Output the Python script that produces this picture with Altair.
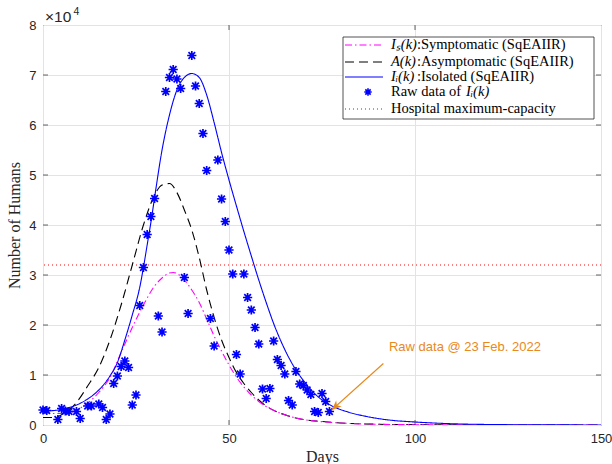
import altair as alt
import pandas as pd

# ---- SqEAIIR model curves (days, number of humans) ----
is_days = [0, 3, 6, 9, 12, 15, 18, 21, 24, 27, 30, 32, 34, 35, 36, 38, 40, 42, 44, 46, 48,
           50, 52, 54, 56, 58, 60, 63, 66, 70, 75, 80, 90, 100, 120, 150]
is_vals = [2600, 2300, 2300, 3000, 4400, 6500, 9500, 14500, 19500, 24000, 27800, 29400,
           30400, 30500, 30300, 29000, 27000, 24500, 21200, 17800, 14800, 12000, 9600,
           7600, 6000, 4700, 3700, 2600, 1800, 1100, 650, 400, 150, 60, 10, 0]

a_days = [0, 3, 6, 9, 12, 15, 18, 21, 24, 27, 30, 32, 34, 36, 38, 40, 42, 44, 46, 48, 50,
          52, 54, 56, 58, 60, 63, 66, 70, 75, 80, 90, 100, 120, 150]
a_vals = [1500, 1500, 2500, 4500, 7800, 11500, 17000, 24000, 32000, 40000, 46000, 48000,
          48300, 46500, 43000, 39000, 33500, 27000, 21500, 17000, 13500, 10500, 8300,
          6500, 5000, 3800, 2600, 1800, 1100, 700, 400, 150, 60, 10, 0]

ii_days = [0, 3, 6, 9, 12, 15, 18, 20, 22, 24, 26, 27, 28, 29, 30, 32, 34, 36, 38, 40, 42,
           44, 46, 48, 50, 52, 54, 56, 58, 60, 62, 64, 66, 68, 70, 72, 75, 78, 82, 87, 93,
           100, 110, 120, 135, 150]
ii_vals = [2800, 2900, 3300, 4000, 5200, 7000, 9800, 12500, 17000, 22000, 27500, 31500,
           36000, 40500, 45500, 55000, 62000, 67000, 69500, 70300, 69500, 66000, 60500,
           54500, 49000, 43800, 38700, 33800, 29000, 24500, 20300, 16700, 13600, 11000,
           8900, 7100, 5000, 3700, 2600, 1700, 1000, 600, 250, 100, 30, 10]

# ---- raw data of isolated cases ----
raw_days = [0, 1, 4, 5, 6, 7, 9, 10, 12, 13, 15, 16, 17, 18, 19, 20, 21, 22, 23, 24, 25,
            26, 27, 28, 29, 30, 31, 32, 33, 34, 35, 36, 37, 38, 39, 40, 41, 42, 43, 44,
            45, 46, 47, 48, 49, 50, 51, 52, 53, 54, 55, 56, 57, 58, 59, 60, 61, 62, 63,
            64, 65, 66, 67, 68, 69, 70, 71, 72, 73, 74, 75, 76, 77]
raw_vals = [3000, 2900, 1100, 3300, 2800, 2700, 2700, 1300, 3800, 3800, 4200, 3500, 1100,
            2200, 8300, 9800, 11700, 12800, 11500, 4000, 6000, 23900, 31500, 38100, 41700,
            45300, 21800, 18600, 66700, 69500, 71100, 69200, 67300, 29500, 22300, 73900,
            67800, 64300, 58300, 50900, 21300, 15800, 53000, 45200, 40700, 35000, 30200,
            14100, 10200, 30200, 25500, 23000, 19500, 16200, 7200, 5300, 7300, 16800,
            13100, 11900, 10200, 4900, 4000, 10700, 8200, 7900, 7000, 6100, 2700, 2500,
            6300, 4700, 2700]

hospital_capacity = 32000

x_ticks = [0, 50, 100, 150]
y_ticks = [0, 10000, 20000, 30000, 40000, 50000, 60000, 70000, 80000]

note_text = "Raw data @ 23 Feb. 2022"
note_pos = (93, 15600)
arrow_tail = (91.5, 12300)
arrow_tip = (77.6, 3000)

W, H = 558, 400
AX = "#262626"
SANS = "Liberation Sans"
SERIF = "Liberation Serif"
ORANGE = "#E8891C"
STAR = "M0,-1L0,1M-1,0L1,0M-0.72,-0.72L0.72,0.72M-0.72,0.72L0.72,-0.72"
ARROW = "M0,0L0.42,1L0,0.72L-0.42,1Z"

xscale = alt.Scale(domain=[0, 150], nice=False, zero=False)
yscale = alt.Scale(domain=[0, 80000], nice=False, zero=False)
xaxis = alt.Axis(values=x_ticks, title="Days", grid=True, gridColor="#e3e3e3",
                 domain=False, ticks=False, labelFont=SANS, labelFontSize=13,
                 labelColor=AX, labelPadding=7, labelFlush=False, titleFont=SERIF,
                 titleFontSize=16, titleFontWeight="normal", titleColor=AX,
                 titleX=W / 2, titleY=23, titleAlign="center", titleBaseline="top")
yaxis = alt.Axis(values=y_ticks, labelExpr="datum.value / 10000",
                 title="Number of Humans", grid=True, gridColor="#e3e3e3",
                 domain=False, ticks=False, labelFont=SANS, labelFontSize=13,
                 labelColor=AX, labelPadding=7, titleFont=SERIF, titleFontSize=16,
                 titleFontWeight="normal", titleColor=AX, titleX=-29, titleY=200,
                 titleAlign="center", titleBaseline="middle")


def X(field):
    return alt.X(field, type="quantitative", scale=xscale, axis=xaxis)


def Y(field):
    return alt.Y(field, type="quantitative", scale=yscale, axis=yaxis)


one = pd.DataFrame({"k": [0]})

curves = []
for days, vals, color, dash in [
    (a_days, a_vals, "black", [9, 5]),
    (is_days, is_vals, "#FF00FF", [7, 3, 1.5, 3]),
    (ii_days, ii_vals, "#0000FF", [1, 0]),
]:
    df = pd.DataFrame({"day": days, "n": vals})
    curves.append(
        alt.Chart(df).mark_line(color=color, strokeWidth=1.1, strokeDash=dash,
                                interpolate="monotone", clip=True)
        .encode(x=X("day"), y=Y("n"))
    )

hospital = alt.Chart(pd.DataFrame({"n": [hospital_capacity]})).mark_rule(
    color="#FF0000", strokeDash=[1, 3], strokeWidth=1
).encode(y=Y("n"))

raw = alt.Chart(pd.DataFrame({"day": raw_days, "n": raw_vals})).mark_point(
    shape=STAR, size=85, stroke="#0000FF", strokeWidth=1.7, filled=False, opacity=1
).encode(x=X("day"), y=Y("n"))

# inward tick marks on all four sides
xt = pd.DataFrame({"v": x_ticks[1:-1]})
yt = pd.DataFrame({"v": y_ticks[1:-1]})
tick_style = dict(color=AX, thickness=1, size=5)
ticks = [
    alt.Chart(xt).mark_tick(orient="vertical", **tick_style).encode(x=X("v"), y=alt.value(H - 2.5)),
    alt.Chart(xt).mark_tick(orient="vertical", **tick_style).encode(x=X("v"), y=alt.value(2.5)),
    alt.Chart(yt).mark_tick(orient="horizontal", **tick_style).encode(y=Y("v"), x=alt.value(2.5)),
    alt.Chart(yt).mark_tick(orient="horizontal", **tick_style).encode(y=Y("v"), x=alt.value(W - 2.5)),
]

# annotation arrow
arrow_df = pd.DataFrame({"x": [arrow_tail[0]], "y": [arrow_tail[1]],
                         "x2": [arrow_tip[0]], "y2": [arrow_tip[1]]})
arrow_line = alt.Chart(arrow_df).mark_rule(color=ORANGE, strokeWidth=1.1).encode(
    x=X("x"), y=Y("y"), x2="x2", y2="y2")
arrow_head = alt.Chart(pd.DataFrame({"x": [arrow_tip[0]], "y": [arrow_tip[1]]})).mark_point(
    shape=ARROW, size=380, filled=True, color=ORANGE, opacity=1, angle=228
).encode(x=X("x"), y=Y("y"))
note = alt.Chart(pd.DataFrame({"x": [note_pos[0]], "y": [note_pos[1]],
                               "t": [note_text]})).mark_text(
    align="left", baseline="middle", font=SANS, fontSize=13, color=ORANGE
).encode(x=X("x"), y=Y("y"), text="t")

# legend box
LX0, LX1, LY0, LY1 = 300, 551, 12, 94
legend = [
    alt.Chart(one).mark_rect(fill="white", stroke=AX, strokeWidth=0.8).encode(
        x=alt.value(LX0), x2=alt.value(LX1), y=alt.value(LY0), y2=alt.value(LY1))
]
rows = [
    ("#FF00FF", [7, 3, 1.5, 3], "Iₛ(k)", ":Symptomatic (SqEAIIR)", None),
    ("black", [9, 5], "A(k)", ":Asymptomatic (SqEAIIR)", None),
    ("#0000FF", [1, 0], "Iᵢ(k)", ":Isolated (SqEAIIR)", None),
    ("star", None, None, "Raw data of ", "Iᵢ(k)"),
    ("#FF0000", [1, 3], None, "Hospital maximum-capacity", None),
]
row_y = [20, 37, 52, 67, 84]
text_style = dict(align="left", baseline="middle", font=SERIF, fontSize=14.5, color="black")
for (color, dash, ital, plain, tail), ry in zip(rows, row_y):
    if color == "star":
        legend.append(alt.Chart(one).mark_point(
            shape=STAR, size=55, stroke="#0000FF", strokeWidth=1.6, opacity=1
        ).encode(x=alt.value(325), y=alt.value(ry)))
    else:
        legend.append(alt.Chart(one).mark_rule(
            color=color, strokeDash=dash, strokeWidth=1.1
        ).encode(x=alt.value(302), x2=alt.value(340), y=alt.value(ry)))
    if ital:
        legend.append(alt.Chart(one).mark_text(fontStyle="italic", **text_style).encode(
            x=alt.value(348), y=alt.value(ry), text=alt.value(ital)))
        legend.append(alt.Chart(one).mark_text(**text_style).encode(
            x=alt.value(374), y=alt.value(ry), text=alt.value(plain)))
    else:
        legend.append(alt.Chart(one).mark_text(**text_style).encode(
            x=alt.value(348), y=alt.value(ry), text=alt.value(plain)))
    if tail:
        legend.append(alt.Chart(one).mark_text(fontStyle="italic", **text_style).encode(
            x=alt.value(423), y=alt.value(ry), text=alt.value(tail)))

# axis multiplier
exponent = [
    alt.Chart(one).mark_text(align="left", baseline="alphabetic", font=SANS,
                             fontSize=15.5, color=AX).encode(
        x=alt.value(2), y=alt.value(-3), text=alt.value("×10")),
    alt.Chart(one).mark_text(align="left", baseline="alphabetic", font=SANS,
                             fontSize=10.5, color=AX).encode(
        x=alt.value(30.5), y=alt.value(-10), text=alt.value("4")),
]

chart = alt.layer(
    hospital, *curves, raw, arrow_line, arrow_head, note, *legend, *ticks, *exponent
).properties(
    width=W, height=H,
    autosize=alt.AutoSizeParams(type="none"),
    padding={"left": 43, "top": 25, "right": 11, "bottom": 39},
    background="white",
).configure_view(stroke=AX, strokeWidth=1)

chart.save("out.html", embed_options={"renderer": "svg", "actions": False})
